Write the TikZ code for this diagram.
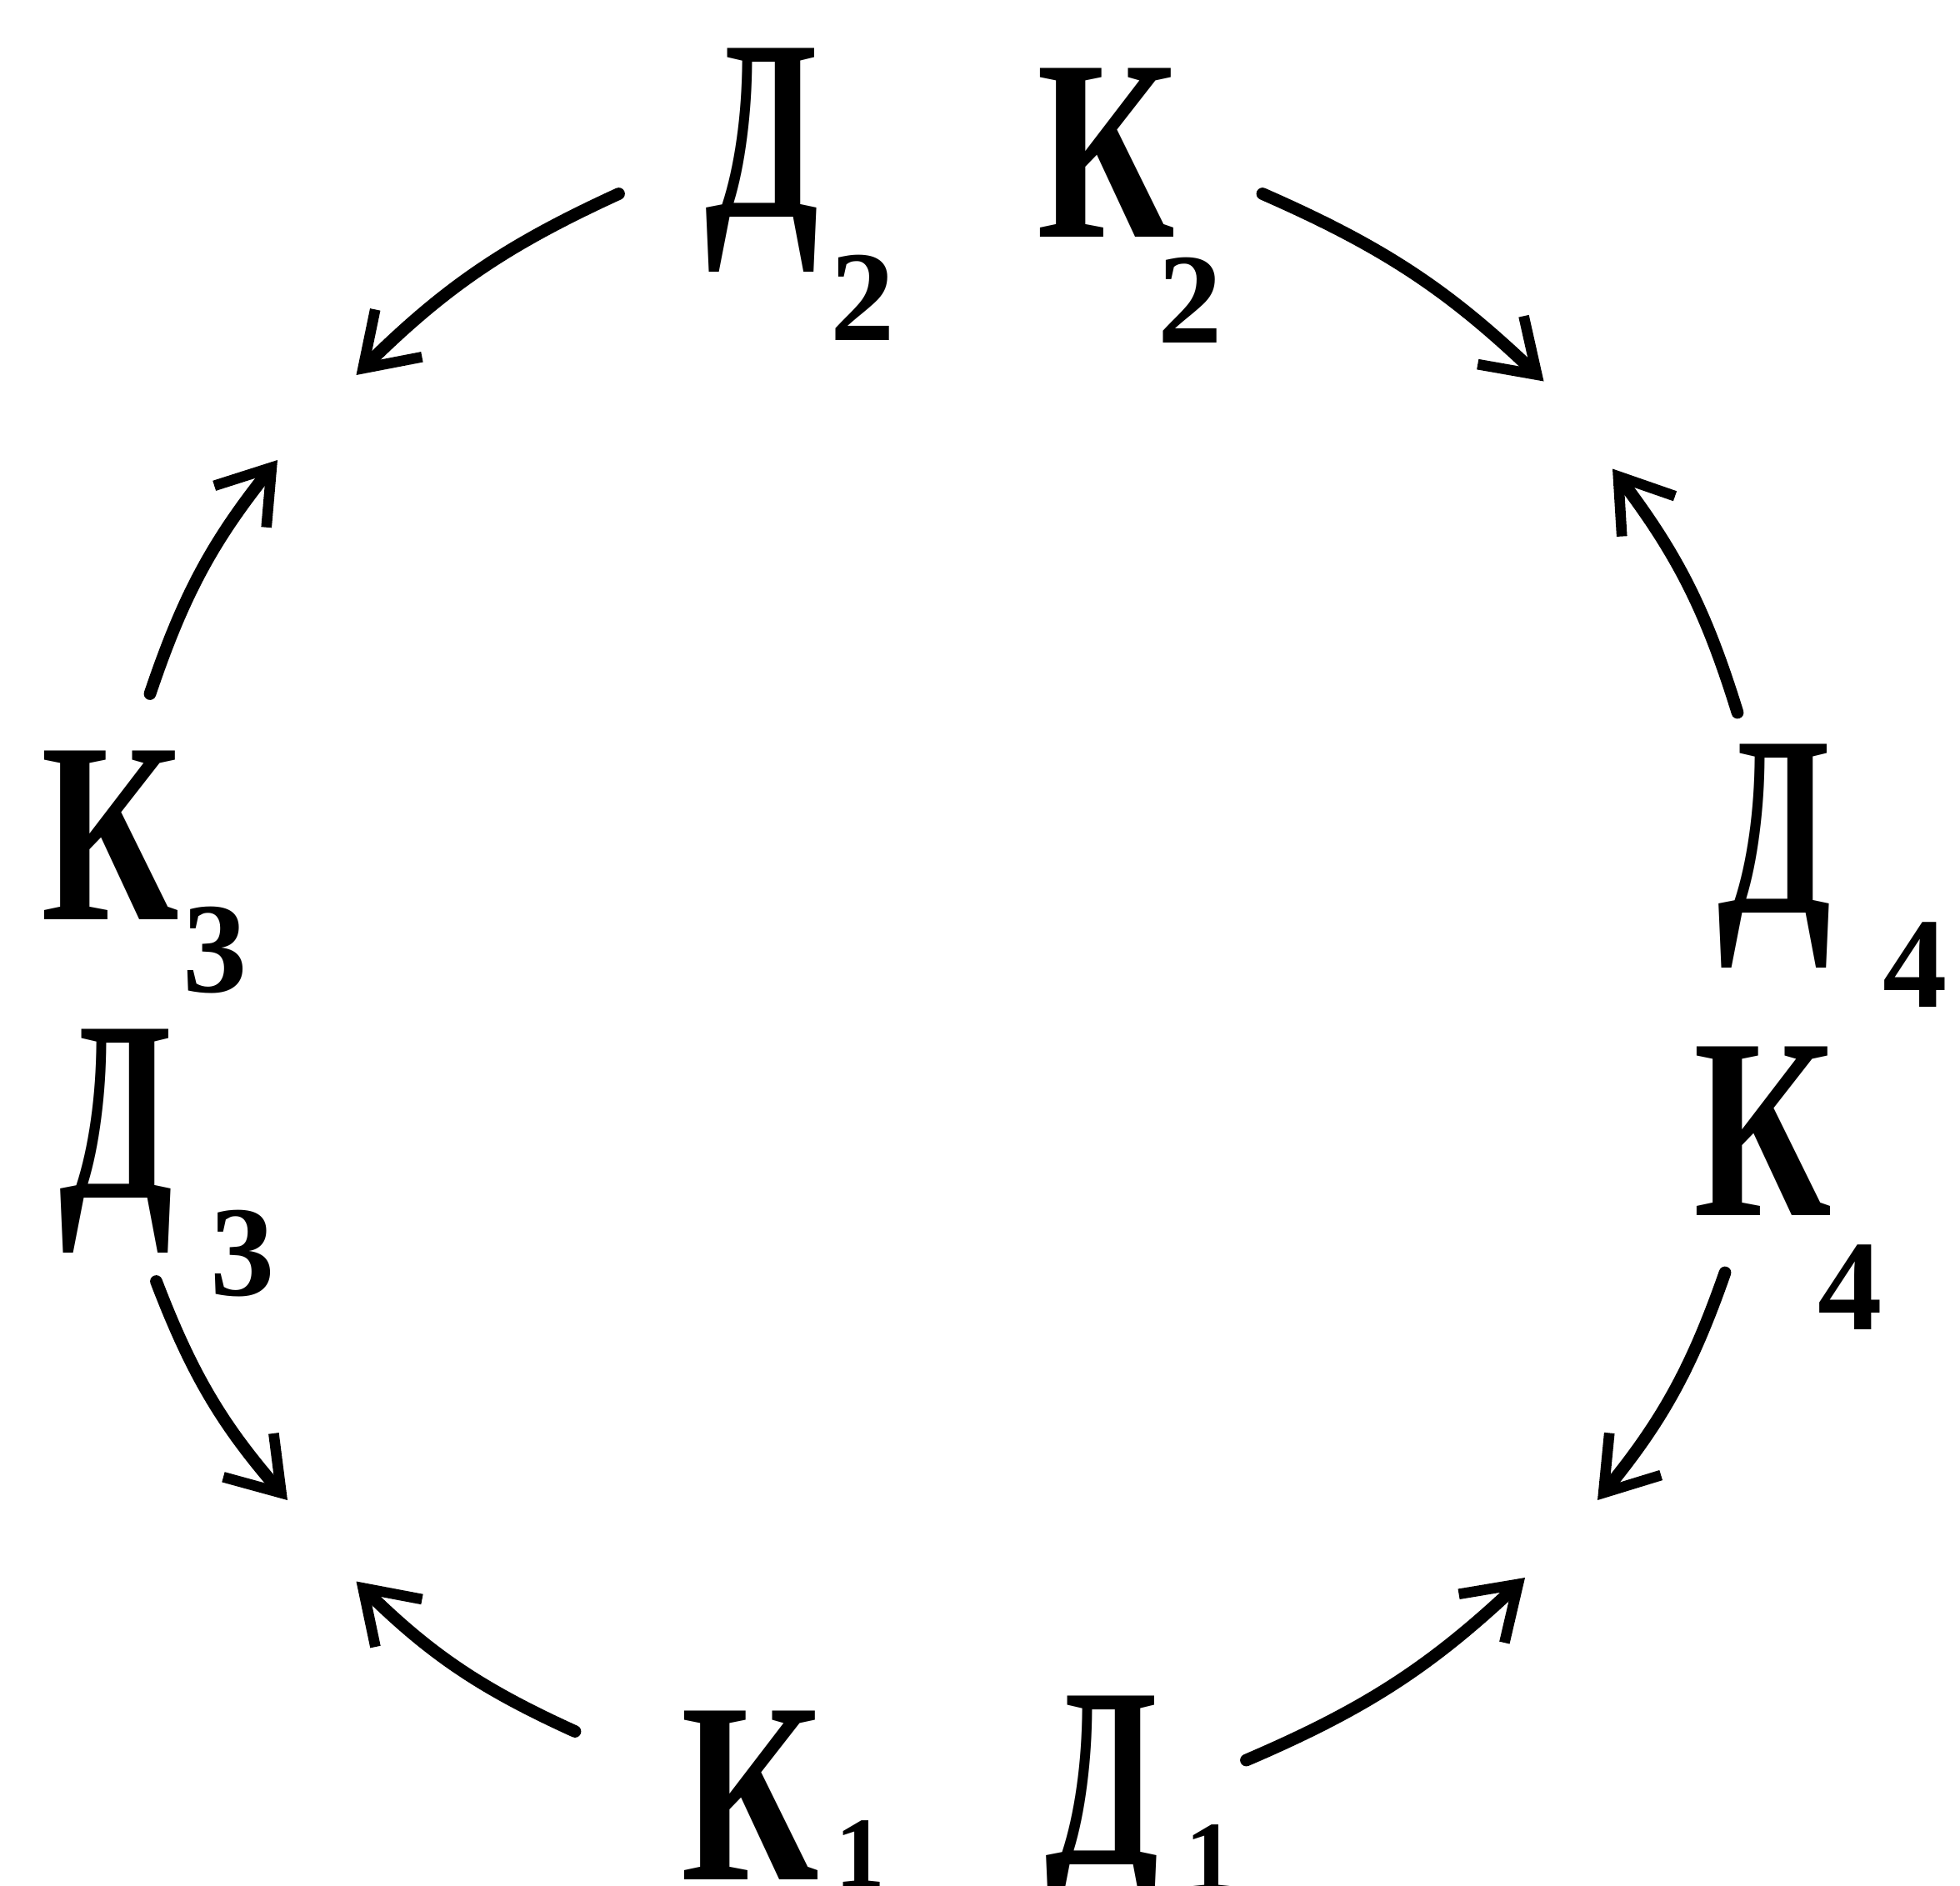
\documentclass[tikz,border=0pt]{standalone}
\usepackage{fontspec}
\setmainfont{Liberation Serif}
\usetikzlibrary{arrows.meta}
\begin{document}
\begin{tikzpicture}[x=0.15mm,y=-0.15mm,
  glyph/.style={font=\fontsize{88}{88}\selectfont\bfseries, inner sep=0pt},
  dglyph/.style={glyph, xscale=0.64},
  kglyph/.style={glyph, xscale=0.74},
  subnum/.style={font=\fontsize{44}{44}\selectfont\bfseries, inner sep=0pt},
  subone/.style={font=\fontsize{34}{34}\selectfont\bfseries, inner sep=0pt},
  conn/.style={line width=4.2pt, line cap=round,
    -{Straight Barb[length=6mm,width=8mm,line width=3.6pt]}}]
\fill[white] (0,0) rectangle (1568,1508);
\useasboundingbox (0,0) rectangle (1568,1508);
% letters
\node[dglyph] (D2) at (610,128) {Д};
\node[subnum] (D2s) at (690,238) {2};
\node[kglyph] (K2) at (885,122) {К};
\node[subnum] (K2s) at (952,240) {2};
\node[kglyph] (K3) at (88,668) {К};
\node[subnum] (K3s) at (172,760) {3};
\node[dglyph] (D3) at (93,913) {Д};
\node[subnum] (D3s) at (194,1003) {3};
\node[dglyph] (D4) at (1420,685) {Д};
\node[subnum] (D4s) at (1532,772) {4};
\node[kglyph] (K4) at (1410,905) {К};
\node[subnum] (K4s) at (1480,1030) {4};
\node[kglyph] (K1) at (600,1436) {К};
\node[subone] (K1s) at (688,1483) {1};
\node[dglyph] (D1) at (882,1446) {Д};
\node[subone] (D1s) at (968,1486) {1};
% arrow ends
\coordinate (a1) at (495,155);  \coordinate (b1) at (285,300);
\coordinate (a2) at (1010,155); \coordinate (b2) at (1235,305);
\coordinate (a3) at (120,555);  \coordinate (b3) at (222,368);
\coordinate (a4) at (1390,570); \coordinate (b4) at (1290,375);
\coordinate (a5) at (125,1025); \coordinate (b5) at (230,1200);
\coordinate (a6) at (1380,1018);\coordinate (b6) at (1278,1200);
\coordinate (a7) at (460,1385); \coordinate (b7) at (285,1265);
\coordinate (a8) at (997,1408); \coordinate (b8) at (1220,1262);
\draw[conn] (a1) to[bend right=10] (b1);
\draw[conn] (a2) to[bend left=10] (b2);
\draw[conn] (a3) to[bend left=10] (b3);
\draw[conn] (a4) to[bend right=10] (b4);
\draw[conn] (a5) to[bend right=10] (b5);
\draw[conn] (a6) to[bend left=10] (b6);
\draw[conn] (a7) to[bend left=10] (b7);
\draw[conn] (a8) to[bend right=10] (b8);
\end{tikzpicture}
\end{document}
